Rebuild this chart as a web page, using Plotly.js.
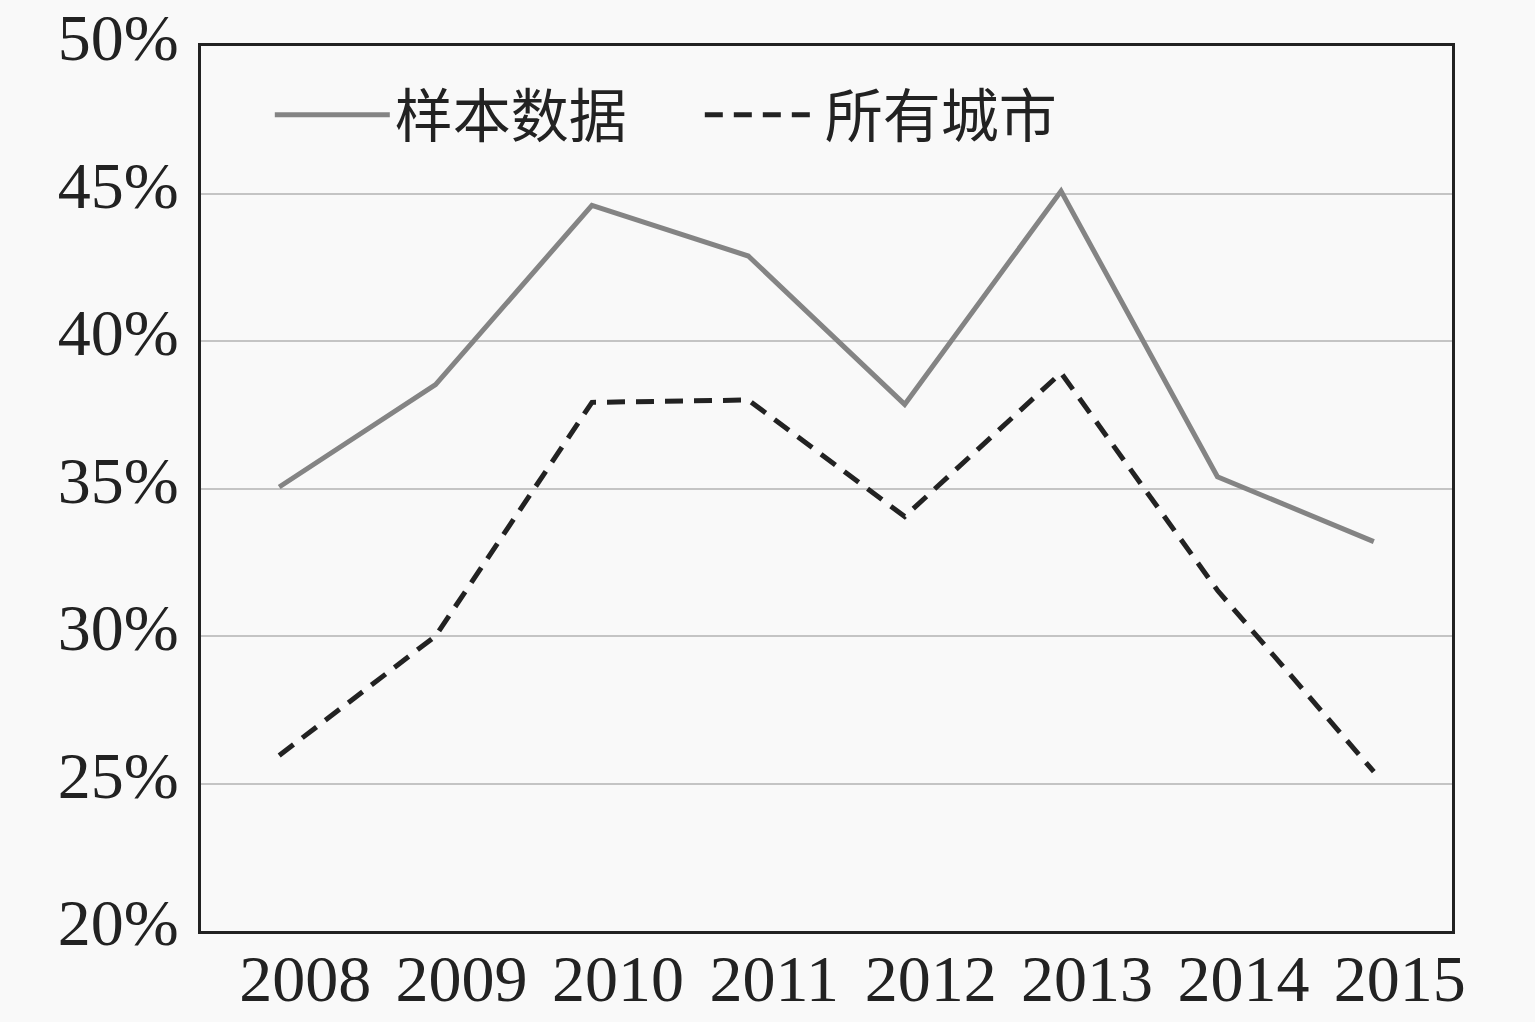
<!DOCTYPE html>
<html>
<head>
<meta charset="utf-8">
<script src="https://cdn.plot.ly/plotly-3.0.1.min.js"></script>
<style>
  html, body { margin: 0; padding: 0; background: #f9f9f9; }
  #chart { width: 1535px; height: 1022px; }
</style>
</head>
<body>
<div id="chart"></div>
<script>
const years = ['2008', '2009', '2010', '2011', '2012', '2013', '2014', '2015'];
const sampleData = [35.05, 38.52, 44.6, 42.88, 37.85, 45.08, 35.4, 33.2];
const allCities = [25.95, 30.0, 37.92, 38.0, 34.05, 38.92, 31.55, 25.4];
const yTicks = [20, 25, 30, 35, 40, 45, 50];

const serif = 'Liberation Serif, Times New Roman, Noto Sans CJK SC, serif';

const traces = [
    {
        x: years,
        y: sampleData,
        name: '样本数据',
        type: 'scatter',
        mode: 'lines',
        line: {color: '#848484', width: 5}
    },
    {
        x: years,
        y: allCities,
        name: '所有城市',
        type: 'scatter',
        mode: 'lines',
        line: {color: '#222222', width: 5, dash: '18px,11px'}
    }
];

const layout = {
    width: 1535,
    height: 1022,
    margin: {l: 201, r: 83, t: 46, b: 91},
    paper_bgcolor: '#f9f9f9',
    plot_bgcolor: '#f9f9f9',
    showlegend: true,
    legend: {
        orientation: 'h',
        x: 0.055,
        y: 0.922,
        xanchor: 'left',
        yanchor: 'middle',
        bgcolor: 'rgba(0,0,0,0)',
        itemwidth: 115,
        entrywidth: 300,
        font: {family: 'Noto Sans CJK SC, sans-serif', size: 58, color: '#222'}
    },
    xaxis: {
        type: 'category',
        range: [-0.5, 7.5],
        showgrid: false,
        showline: true,
        mirror: true,
        linecolor: '#222',
        linewidth: 3,
        ticks: '',
        ticklen: 0,
        ticklabelstandoff: -12,
        ticklabelshift: 26,
        tickfont: {family: serif, size: 66, color: '#222'},
        zeroline: false
    },
    yaxis: {
        range: [20, 50],
        tickvals: yTicks,
        ticktext: yTicks.map(v => v + '%'),
        showgrid: true,
        gridcolor: '#c4c4c4',
        gridwidth: 2,
        showline: true,
        mirror: true,
        linecolor: '#222',
        linewidth: 3,
        ticks: '',
        ticklabelstandoff: 6,
        ticklabelshift: -9,
        tickfont: {family: serif, size: 66, color: '#222'},
        zeroline: false
    }
};

Plotly.newPlot('chart', traces, layout, {displayModeBar: false, staticPlot: true});
</script>
</body>
</html>
